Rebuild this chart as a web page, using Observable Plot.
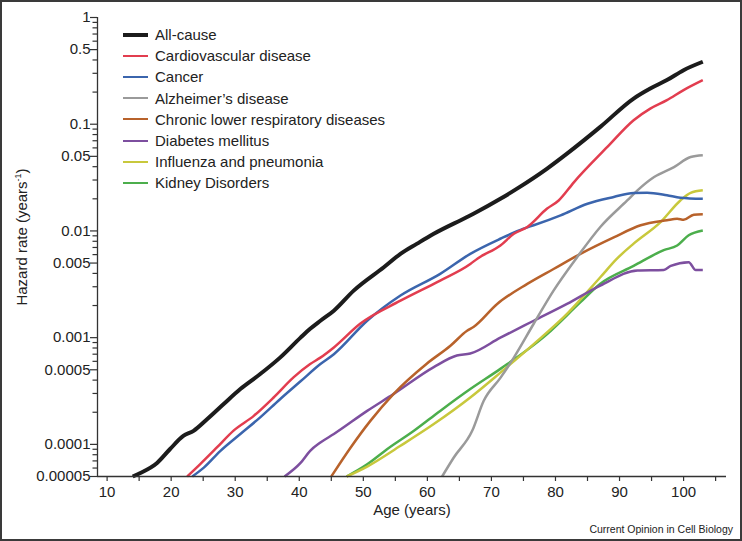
<!DOCTYPE html>
<html>
<head>
<meta charset="utf-8">
<script src="https://cdn.jsdelivr.net/npm/d3@7"></script>
<script src="https://cdn.jsdelivr.net/npm/@observablehq/plot@0.6"></script>
<style>
  body { margin: 0; background: #fff; }
  #wrap { position: relative; width: 742px; height: 541px; overflow: hidden; font-family: "Liberation Sans", Arial, sans-serif; background: #fff; }
  #frame { position: absolute; left: 0; top: 0; width: 742px; height: 541px; box-sizing: border-box; border: 2px solid #3a3a3a; pointer-events: none; }
  #legend { position: absolute; left: 123px; top: 24px; }
  .row { display: flex; align-items: center; height: 21.2px; font-size: 15px; color: #222; white-space: nowrap; }
  .sw { width: 25px; margin-right: 7px; }
  #ylabel { position: absolute; left: 21px; top: 237px; transform: translate(-50%, -50%) rotate(-90deg); font-size: 15px; color: #222; white-space: nowrap; }
  #ylabel sup { font-size: 9px; }
  #caption { position: absolute; right: 9px; bottom: 6px; font-size: 10.5px; color: #222; }
</style>
</head>
<body>
<div id="wrap">
  <div id="chart"></div>
  <div id="legend"></div>
  <div id="ylabel">Hazard rate (years<sup>-1</sup>)</div>
  <div id="caption">Current Opinion in Cell Biology</div>
  <div id="frame"></div>
</div>
<script>
// ---- Data (age in years, hazard rate in 1/years) ----
const allCause = [[14,5e-5],[15.2,5.4e-5],[17.8,6.7e-5],[19.8,9.0e-5],[21.9,1.2e-4],[23.5,1.34e-4],[25.6,1.72e-4],[28.2,2.39e-4],[30.8,3.3e-4],[33.9,4.56e-4],[37,6.5e-4],[40.2,1.0e-3],[41.7,1.21e-3],[43.3,1.44e-3],[45.4,1.79e-3],[48.5,2.76e-3],[53.2,4.57e-3],[55.8,6.1e-3],[58.4,7.6e-3],[61,9.4e-3],[66.2,0.0135],[67.2,0.0145],[71.4,0.020],[74,0.0249],[78.7,0.0384],[81.8,0.053],[87,0.0944],[92.2,0.174],[94.8,0.216],[97.4,0.259],[100,0.321],[103,0.385]];
const cardiovascular = [[22.5,5e-5],[24.5,6.5e-5],[27.1,9.3e-5],[29.7,1.34e-4],[32.9,1.85e-4],[36,2.75e-4],[39.1,4.24e-4],[41.7,5.66e-4],[43.3,6.5e-4],[45.4,8.1e-4],[49.5,1.35e-3],[55.8,2.22e-3],[62,3.43e-3],[66.7,4.9e-3],[67.8,5.5e-3],[71.4,7.3e-3],[73.5,9.4e-3],[75.6,0.0109],[78.7,0.0162],[80.5,0.0193],[82.9,0.0287],[88.1,0.0612],[92.2,0.109],[94.8,0.140],[97.4,0.168],[100,0.209],[103,0.259]];
const cancer = [[23.3,5e-5],[25.1,6.05e-5],[27.7,8.7e-5],[30.8,1.25e-4],[33.9,1.79e-4],[37,2.65e-4],[40.2,3.9e-4],[43.3,5.66e-4],[45.4,7.0e-4],[50.6,1.44e-3],[55.8,2.48e-3],[62,3.96e-3],[66.7,6.1e-3],[71.4,8.45e-3],[75,0.0105],[76.6,0.0113],[80.8,0.014],[85,0.018],[89.1,0.0208],[92.2,0.0227],[94.3,0.0228],[97.4,0.0216],[99.5,0.0205],[103,0.020]];
const alzheimers = [[62.3,5e-5],[64.1,7.5e-5],[67,1.34e-4],[68.8,2.56e-4],[71.4,4.2e-4],[73.5,6.5e-4],[76.6,1.35e-3],[79.7,2.76e-3],[83.4,5.7e-3],[87,0.0109],[91.2,0.0193],[92.8,0.024],[95.4,0.032],[98.5,0.0397],[101.1,0.0493],[103,0.0512]];
const respiratory = [[45,5e-5],[48,9.3e-5],[51.1,1.66e-4],[54.7,2.96e-4],[59.9,5.7e-4],[63.6,8.4e-4],[66.2,1.16e-3],[67.2,1.26e-3],[70.9,2.07e-3],[75.6,3.19e-3],[79.7,4.4e-3],[83.9,6.1e-3],[89.1,8.7e-3],[93.3,0.0113],[97.4,0.0126],[99,0.013],[100,0.0127],[101.6,0.0142],[103,0.0143]];
const diabetes = [[37.7,5e-5],[40.2,6.7e-5],[41.7,8.7e-5],[43.3,1.04e-4],[45.4,1.25e-4],[50.6,2.06e-4],[54.7,2.96e-4],[61,5.3e-4],[64.6,6.8e-4],[66.7,7.1e-4],[71.4,1.0e-3],[76.6,1.44e-3],[81.8,2.07e-3],[87,3.08e-3],[92.8,4.26e-3],[96.9,4.3e-3],[98,4.7e-3],[100.8,5.1e-3],[101.9,4.3e-3],[103,4.3e-3]];
const influenza = [[47.4,5e-5],[50.6,6.2e-5],[55.8,9.7e-5],[61,1.55e-4],[66.7,2.75e-4],[71.4,4.7e-4],[76.6,8.7e-4],[81.8,1.67e-3],[87,3.68e-3],[89.6,5.5e-3],[92.2,7.6e-3],[96.4,0.0121],[99.5,0.0193],[101.1,0.0227],[103,0.024]];
const kidney = [[47.4,5e-5],[50.6,6.5e-5],[53.7,9.0e-5],[57.9,1.34e-4],[62,2.06e-4],[66.7,3.3e-4],[71.4,5.1e-4],[78.7,1.08e-3],[83.9,2.15e-3],[87,3.2e-3],[92.2,4.7e-3],[96.9,6.6e-3],[99,7.3e-3],[100.8,9.1e-3],[103,0.0101]];

const seriesNames = ["All-cause","Cardiovascular disease","Cancer","Alzheimer\u2019s disease","Chronic lower respiratory diseases","Diabetes mellitus","Influenza and pneumonia","Kidney Disorders"];
const seriesData = [allCause, cardiovascular, cancer, alzheimers, respiratory, diabetes, influenza, kidney];
const seriesColors = ["#1c1c1c","#e23d4f","#3b65ad","#9a9a9a","#b8622b","#7d4f9f","#c8c83c","#4cae4c"];
const seriesWidths = [4, 2.5, 2.5, 2.5, 2.5, 2.5, 2.5, 2.5];

const yMajorTicks = [1, 0.5, 0.1, 0.05, 0.01, 0.005, 0.001, 0.0005, 0.0001, 0.00005];
const yMajorLabels = ["1","0.5","0.1","0.05","0.01","0.005","0.001","0.0005","0.0001","0.00005"];
const yMinorTicks = [];
for (const e of [-5,-4,-3,-2,-1]) for (const m of [2,3,4,6,7,8,9]) {
  const v = +(m * Math.pow(10, e)).toPrecision(3);
  if (v > 5e-5 && v < 1) yMinorTicks.push(v);
}
const xMajorTicks = [10,20,30,40,50,60,70,80,90,100];
const xMinorTicks = [15,25,35,45,55,65,75,85,95,105];
const xDomain = [8.5, 106.7];
const yDomain = [0.00005, 1];

// ---- Chart ----
const lineMarks = seriesData.map((d, i) => Plot.line(d, {
  x: p => p[0], y: p => p[1], stroke: seriesColors[i], strokeWidth: seriesWidths[i],
  curve: "monotone-x", strokeLinejoin: "round", strokeLinecap: "butt"
})).reverse();

const yLabelRows = yMajorTicks.map((v, i) => ({v, label: yMajorLabels[i]}));

const chart = Plot.plot({
  width: 742, height: 541,
  marginLeft: 97, marginRight: 16, marginTop: 17, marginBottom: 65,
  style: { fontFamily: "'Liberation Sans', Arial, sans-serif", fontSize: "15px", color: "#222", background: "#fff" },
  x: { domain: xDomain },
  y: { type: "log", domain: yDomain },
  marks: [
    ...lineMarks,
    Plot.ruleX([xDomain[0]], { stroke: "#333", strokeWidth: 1.3 }),
    Plot.ruleY([yDomain[0]], { stroke: "#333", strokeWidth: 1.3 }),
    Plot.axisY(yMinorTicks, { tickSize: 4.5, strokeWidth: 1.2, text: null, label: null, stroke: "#333" }),
    Plot.axisY(yMajorTicks, { tickSize: 7, strokeWidth: 1.2, text: null, label: null, stroke: "#333" }),
    Plot.text(yLabelRows, { y: "v", text: "label", frameAnchor: "left", dx: -7, textAnchor: "end", fontSize: 15, fill: "#222" }),
    Plot.axisX(xMinorTicks, { tickSize: 5, strokeWidth: 1.2, text: null, label: null, stroke: "#333" }),
    Plot.axisX(xMajorTicks, { tickSize: 5, strokeWidth: 1.2, tickPadding: 5, tickFormat: d => String(d), label: null, fontSize: 15, stroke: "#333" }),
    Plot.text(["Age (years)"], { frameAnchor: "bottom", dy: 38, fontSize: 15, fill: "#222" })
  ]
});
document.getElementById("chart").appendChild(chart);

// ---- Legend ----
const legend = document.getElementById("legend");
seriesNames.forEach((name, i) => {
  const row = document.createElement("div");
  row.className = "row";
  const sw = document.createElement("div");
  sw.className = "sw";
  sw.style.borderTop = `${seriesWidths[i]}px solid ${seriesColors[i]}`;
  const t = document.createElement("span");
  t.textContent = name;
  row.appendChild(sw); row.appendChild(t);
  legend.appendChild(row);
});
</script>
</body>
</html>
